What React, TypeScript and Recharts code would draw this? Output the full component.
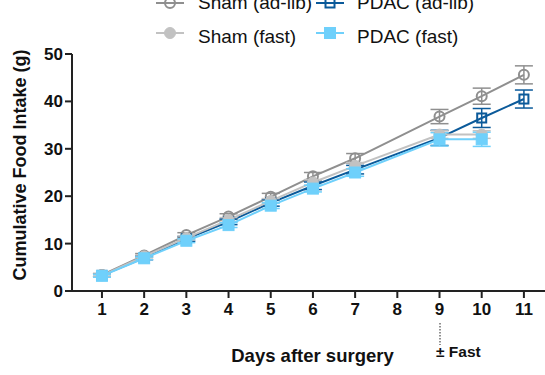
import { LineChart, Line, XAxis, YAxis, ErrorBar } from 'recharts';

const days = [1, 2, 3, 4, 5, 6, 7, 9, 10, 11];
const shamAdLib = [3.4, 7.5, 11.8, 15.7, 19.9, 24.2, 28.0, 36.8, 41.1, 45.6];
const shamAdLibErr = [0.3, 0.4, 0.5, 0.6, 0.7, 0.8, 1.0, 1.5, 1.7, 1.9];
const pdacAdLib = [3.3, 7.0, 11.0, 14.6, 18.6, 22.2, 25.6, 32.3, 36.5, 40.5];
const pdacAdLibErr = [0.3, 0.4, 0.5, 0.6, 0.7, 0.8, 0.9, 1.6, 2.0, 1.9];
const shamFast = [3.3, 7.3, 11.2, 15.0, 19.0, 22.9, 26.4, 33.0, 33.0];
const shamFastErr = [0.3, 0.3, 0.4, 0.5, 0.5, 0.6, 0.7, 0.8, 0.8];
const pdacFast = [3.2, 6.9, 10.6, 13.9, 18.0, 21.6, 25.0, 32.0, 32.0];
const pdacFastErr = [0.3, 0.3, 0.4, 0.5, 0.6, 0.7, 0.8, 1.4, 1.5];

const xTicks = [1, 2, 3, 4, 5, 6, 7, 8, 9, 10, 11];
const yTicks = [0, 10, 20, 30, 40, 50];

const FONT = '"Liberation Sans", Arial, Helvetica, sans-serif';
const GRAY = '#8f8f8f';
const NAVY = '#0b5a9a';
const LIGHTGRAY = '#c2c2c2';
const LIGHTBLUE = '#6fd0fb';

const toRows = (vals: number[], errs: number[]) =>
  vals.map((v, i) => ({ day: days[i], value: v, err: errs[i] }));

const series = [
  { name: 'Sham (ad-lib)', data: toRows(shamAdLib, shamAdLibErr), color: GRAY, shape: 'circle', open: true },
  { name: 'PDAC (ad-lib)', data: toRows(pdacAdLib, pdacAdLibErr), color: NAVY, shape: 'square', open: true },
  { name: 'Sham (fast)', data: toRows(shamFast, shamFastErr), color: LIGHTGRAY, shape: 'circle', open: false },
  { name: 'PDAC (fast)', data: toRows(pdacFast, pdacFastErr), color: LIGHTBLUE, shape: 'square', open: false },
];

function Marker({ cx, cy, color, shape, open }: any) {
  if (cx == null || cy == null) return null;
  if (shape === 'circle') {
    return <circle cx={cx} cy={cy} r={open ? 5 : 5.5} fill={open ? 'none' : color} stroke={color} strokeWidth={open ? 2 : 1} />;
  }
  const s = open ? 9 : 11;
  return (
    <rect x={cx - s / 2} y={cy - s / 2} width={s} height={s}
      fill={open ? 'none' : color} stroke={color} strokeWidth={open ? 2 : 1} />
  );
}

function LegendSymbol({ x, y, color, shape, open }: any) {
  return (
    <g>
      <line x1={x} x2={x + 28} y1={y} y2={y} stroke={color} strokeWidth={2} />
      <Marker cx={x + 14} cy={y} color={color} shape={shape} open={open} />
    </g>
  );
}

const legendPos = [
  { sx: 156, tx: 198, base: 9, sy: 3 },
  { sx: 316, tx: 357, base: 9, sy: 3 },
  { sx: 156, tx: 198, base: 43, sy: 33 },
  { sx: 316, tx: 357, base: 43, sy: 33 },
];

const drawOrder = [0, 1, 2, 3];

export default function App() {
  return (
    <div style={{ position: 'absolute', left: 0, top: 0, width: 545, height: 375, fontFamily: FONT }}>
      <LineChart width={545} height={375} margin={{ top: 54, right: 0, bottom: 54, left: 12 }}>
        <XAxis
          type="number"
          dataKey="day"
          domain={[0.29, 11.5]}
          ticks={xTicks}
          allowDuplicatedCategory={false}
          height={30}
          tickSize={7}
          tickMargin={5}
          stroke="#222"
          strokeWidth={2}
          tick={{ fill: '#111', fontSize: 17, fontWeight: 'bold', fontFamily: FONT }}
          label={{
            content: ({ viewBox }: any) => (
              <text x={viewBox.x + viewBox.width / 2 + 4} y={362} textAnchor="middle"
                fontSize={18.5} fontWeight="bold" fill="#111" fontFamily={FONT}>
                Days after surgery
              </text>
            ),
          }}
        />
        <YAxis
          type="number"
          domain={[0, 50]}
          ticks={yTicks}
          width={60}
          tickSize={7}
          tickMargin={2}
          stroke="#222"
          strokeWidth={2}
          tick={{ fill: '#111', fontSize: 17, fontWeight: 'bold', fontFamily: FONT }}
          label={{
            content: () => (
              <text x={0} y={0} transform="translate(26 165) rotate(-90)" textAnchor="middle"
                fontSize={18} fontWeight="bold" fill="#111" fontFamily={FONT}>
                Cumulative Food Intake (g)
              </text>
            ),
          }}
        />
        {drawOrder.map((i) => {
          const s = series[i];
          return (
            <Line
              key={s.name}
              data={s.data}
              dataKey="value"
              name={s.name}
              stroke={s.color}
              strokeWidth={2}
              isAnimationActive={false}
              dot={(p: any) => <Marker key={`${s.name}-${p.index}`} cx={p.cx} cy={p.cy} color={s.color} shape={s.shape} open={s.open} />}
              activeDot={false}
            >
              <ErrorBar dataKey="err" width={9} stroke={s.color} strokeWidth={1.5} direction="y" />
            </Line>
          );
        })}
      </LineChart>
      <svg width={545} height={375} style={{ position: 'absolute', left: 0, top: 0, pointerEvents: 'none' }}>
        {series.map((s, i) => (
          <g key={s.name}>
            <LegendSymbol x={legendPos[i].sx} y={legendPos[i].sy} color={s.color} shape={s.shape} open={s.open} />
            <text x={legendPos[i].tx} y={legendPos[i].base} fontSize={19} fill="#111" fontFamily={FONT}>{s.name}</text>
          </g>
        ))}
        <line x1={440} x2={440} y1={323} y2={345} stroke="#222" strokeWidth={1} strokeDasharray="1.5 1.5" />
        <text x={436} y={357} fontSize={15.5} fontWeight="bold" fill="#111" fontFamily={FONT}>± Fast</text>
      </svg>
    </div>
  );
}
